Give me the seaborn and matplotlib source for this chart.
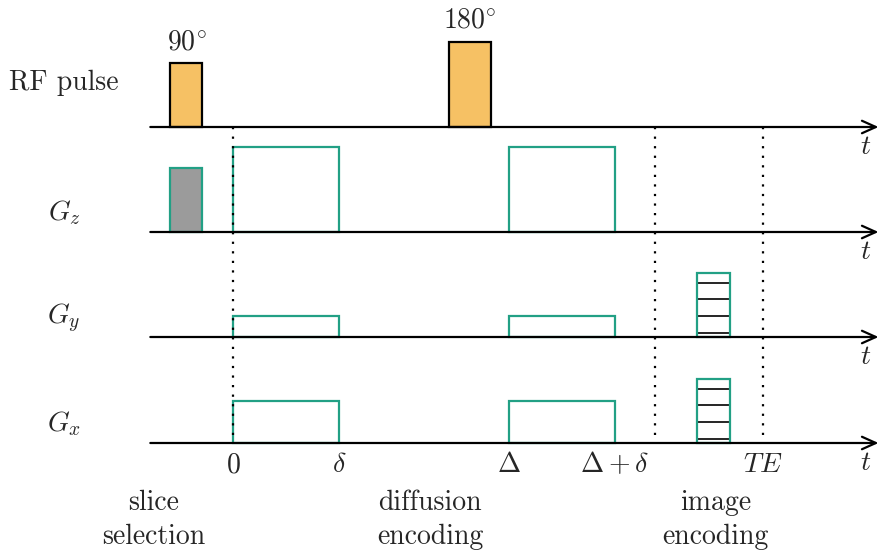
import numpy as np
import pandas as pd
import matplotlib.pyplot as plt
from matplotlib.patches import Rectangle
import seaborn as sns

# timing, in units of delta
t_marks = [0.0, 1.0, 2.6, 3.6, 5.0]
t_labels = ['$0$', r'$\delta$', r'$\Delta$', r'$\Delta+\delta$', '$TE$']
dotted_t = [0.0, 3.98, 5.0]

rows = ['RF pulse', '$G_z$', '$G_y$', '$G_x$']

# RF pulses
rf_start = [-0.59, 2.04]
rf_end = [-0.29, 2.43]
rf_amp = [0.75, 1.0]
rf_names = [r'$90^{\circ}$', r'$180^{\circ}$']

# slice selection gradient (Gz)
slice_start, slice_end, slice_amp = -0.59, -0.29, 0.75

# diffusion gradients
diff_start = [0.0, 2.6]
diff_end = [1.0, 3.6]
diff_amp = {'$G_z$': 1.0, '$G_y$': 0.25, '$G_x$': 0.5}

# imaging gradients (phase/readout steps)
img_start, img_end, img_amp = 4.38, 4.69, 0.75
img_steps = [0.64, 0.45, 0.25, 0.05]

phases = ['slice\nselection', 'diffusion\nencoding', 'image\nencoding']
phase_t = [-0.75, 1.86, 4.55]

# layout
x0, px = 233, 106            # pixel of t=0, pixels per unit time
base = {'RF pulse': 127, '$G_z$': 232, '$G_y$': 337, '$G_x$': 443}
amp_px = 85
axis_start, axis_end = -0.78, 6.09

orange = '#F6C164'
teal = '#22A085'
gray = '#9B9B9B'

sns.set_style('white')
plt.rcParams['font.family'] = ['cmr10', 'DejaVu Serif']
plt.rcParams['mathtext.fontset'] = 'cm'
plt.rcParams['axes.unicode_minus'] = False

fig = plt.figure(figsize=(8.81, 5.54), dpi=100)
ax = fig.add_axes([0, 0, 1, 1])
ax.set_xlim(-x0 / px, (881 - x0) / px)
ax.set_ylim(554, 0)
ax.axis('off')

fs = 20


def rect(t1, t2, b, a, **kw):
    ax.add_patch(Rectangle((t1, b - a * amp_px), t2 - t1, a * amp_px, **kw))


# RF pulses
for s, e, a, n in zip(rf_start, rf_end, rf_amp, rf_names):
    rect(s, e, base['RF pulse'], a, facecolor=orange, edgecolor='black', lw=1.6, zorder=3)
    ax.text((s + e) / 2, base['RF pulse'] - a * amp_px - 8, n, ha='center', va='bottom',
            fontsize=fs)

# slice selection
rect(slice_start, slice_end, base['$G_z$'], slice_amp, facecolor=gray, edgecolor=teal,
     lw=1.6, zorder=3)

# diffusion gradients
for r, a in diff_amp.items():
    for s, e in zip(diff_start, diff_end):
        rect(s, e, base[r], a, facecolor='none', edgecolor=teal, lw=1.6, zorder=3)

# imaging gradients
for r in ['$G_y$', '$G_x$']:
    b = base[r]
    for st in img_steps:
        ax.plot([img_start, img_end], [b - st * amp_px] * 2, color='black', lw=1.2, zorder=3)
    rect(img_start, img_end, b, img_amp, facecolor='none', edgecolor=teal, lw=1.6, zorder=4)

# dotted timing lines
for t in dotted_t:
    ax.plot([t, t], [base['RF pulse'], base['$G_x$']], color='black', lw=1.6,
            linestyle=(0, (1, 3.3)), zorder=5)

# time axes
for r in rows:
    b = base[r]
    ax.annotate('', xy=(axis_end, b), xytext=(axis_start, b),
                arrowprops=dict(arrowstyle='->,head_length=1.0,head_width=0.45',
                                lw=1.6, color='black', shrinkA=0, shrinkB=0), zorder=6)
    ax.text((866 - x0) / px, b + 20, '$t$', ha='center', va='center', fontsize=fs)
    lab_y = b - 44 if r == 'RF pulse' else b - 19
    ax.text((64 - x0) / px, lab_y, r, ha='center', va='center', fontsize=fs)

# time tick labels
for t, l in zip(t_marks, t_labels):
    ax.text(t, 465, l, ha='center', va='center', fontsize=fs)

# phase labels
for t, p in zip(phase_t, phases):
    ax.text(t, 520, p, ha='center', va='center', fontsize=fs, linespacing=1.35)

fig.savefig('out.png', dpi=100)
